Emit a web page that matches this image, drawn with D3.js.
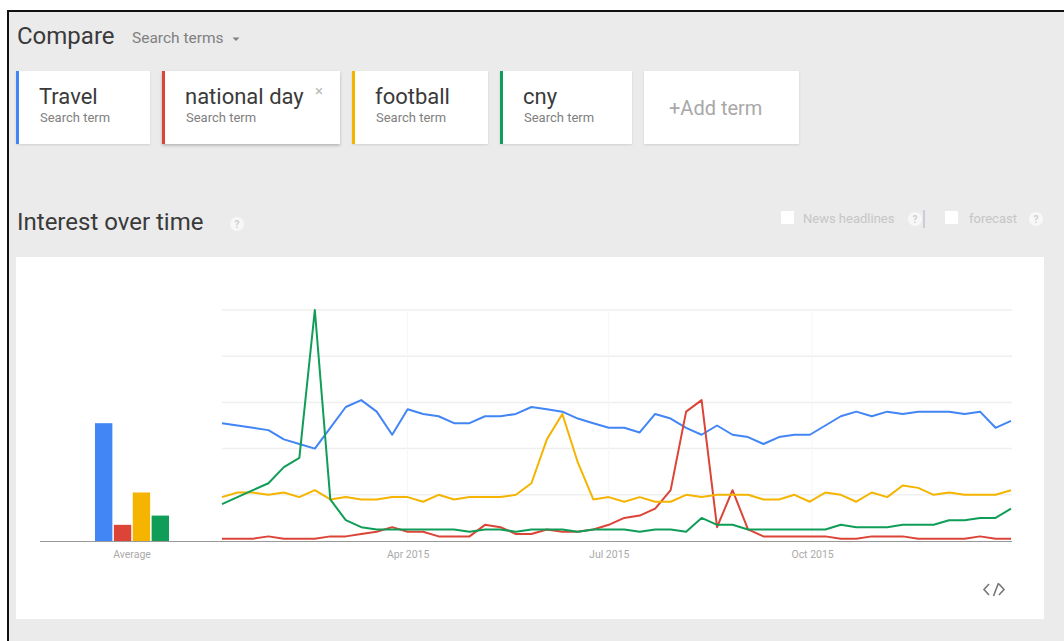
<!DOCTYPE html>
<html>
<head>
<meta charset="utf-8">
<script src="https://d3js.org/d3.v7.min.js"></script>
<style>
  body { margin: 0; background: #fff; }
  text { font-family: Roboto, "Open Sans", sans-serif; }
</style>
</head>
<body>
<div id="chart"></div>
<script>
// Search terms and their colours
const terms = ["Travel", "national day", "football", "cny"];
const termColors = ["#4285f4", "#db4437", "#f4b400", "#0f9d58"];

// Average interest per term (left bar group)
const averages = [51, 7, 21, 11];

// Weekly interest, 2015 (one value per week, week midpoints)
const travel = [51, 50, 49, 48, 44, 42, 40, 49, 58, 61, 56, 46, 57, 55, 54, 51, 51, 54, 54, 55,
  58, 57, 56, 53, 51, 49, 49, 47, 55, 53, 49, 46, 50, 46, 45, 42, 45, 46, 46, 50,
  54, 56, 54, 56, 55, 56, 56, 56, 55, 56, 49, 52];
const nationalDay = [1, 1, 1, 2, 1, 1, 1, 2, 2, 3, 4, 6, 4, 4, 2, 2, 2, 7, 6, 3,
  3, 5, 4, 4, 5, 7, 10, 11, 14, 22, 56, 61, 6, 22, 5, 2, 2, 2, 2, 2,
  1, 1, 2, 2, 2, 1, 1, 1, 1, 2, 1, 1];
const football = [19, 21, 21, 20, 21, 19, 22, 18, 19, 18, 18, 19, 19, 17, 20, 18, 19, 19, 19, 20,
  25, 44, 55, 34, 18, 19, 17, 19, 17, 17, 20, 19, 20, 20, 20, 18, 18, 20, 17, 21,
  20, 17, 21, 19, 24, 23, 20, 21, 20, 20, 20, 22];
const cny = [16, 19, 22, 25, 32, 36, 100, 18, 9, 6, 5, 5, 5, 5, 5, 5, 4, 5, 5, 4,
  5, 5, 5, 4, 5, 5, 5, 4, 5, 5, 4, 10, 7, 7, 5, 5, 5, 5, 5, 5,
  7, 6, 6, 6, 7, 7, 7, 9, 9, 10, 10, 14];

// x tick labels
const tickDates = [new Date(2015, 3, 1), new Date(2015, 6, 1), new Date(2015, 9, 1)];
const yGrid = [20, 40, 60, 80, 100];

const weeks = d3.timeWednesday.range(new Date(2015, 0, 7), new Date(2015, 11, 31));
const seriesValues = [travel, nationalDay, football, cny];

const svgWidth = 1064;
const svgHeight = 641;

const svg = d3.select("#chart")
  .append("svg")
  .attr("width", svgWidth)
  .attr("height", svgHeight);

const defs = svg.append("defs");
const shadow = defs.append("filter").attr("id", "shadow")
  .attr("x", "-10%").attr("y", "-10%").attr("width", "120%").attr("height", "130%");
shadow.append("feDropShadow").attr("dx", 0).attr("dy", 1).attr("stdDeviation", 1)
  .attr("flood-color", "#000").attr("flood-opacity", 0.12);
const shadow2 = defs.append("filter").attr("id", "shadow2")
  .attr("x", "-10%").attr("y", "-10%").attr("width", "120%").attr("height", "130%");
shadow2.append("feDropShadow").attr("dx", 0).attr("dy", 1.5).attr("stdDeviation", 1.5)
  .attr("flood-color", "#000").attr("flood-opacity", 0.25);

// grey page with black frame
svg.append("rect")
  .attr("x", 8).attr("y", 11)
  .attr("width", 1070).attr("height", 640)
  .attr("fill", "#ebebeb")
  .attr("stroke", "#111")
  .attr("stroke-width", 2);

// Header
svg.append("text").attr("x", 17).attr("y", 44)
  .attr("font-size", 24).attr("fill", "#3a3a3a").text("Compare");
svg.append("text").attr("x", 132).attr("y", 43)
  .attr("font-size", 15.5).attr("fill", "#808080").text("Search terms");
svg.append("path").attr("d", "M232.5,37.5 L239.5,37.5 L236,41 Z").attr("fill", "#808080");

// term cards
const cards = [
  {x: 16, w: 134}, {x: 162, w: 178}, {x: 352, w: 136}, {x: 500, w: 132}
];
cards.forEach(function(c, i) {
  const g = svg.append("g").attr("transform", `translate(${c.x}, 71)`);
  g.append("rect").attr("width", c.w).attr("height", 73)
    .attr("fill", "#fff")
    .attr("filter", i === 1 ? "url(#shadow2)" : "url(#shadow)");
  g.append("rect").attr("width", 3).attr("height", 73).attr("fill", termColors[i]);
  g.append("text").attr("x", 23).attr("y", 33)
    .attr("font-size", 22).attr("fill", "#3a3a3a").text(terms[i]);
  g.append("text").attr("x", 24).attr("y", 51)
    .attr("font-size", 13).attr("fill", "#808080").text("Search term");
  if (i === 1) {
    g.append("text").attr("x", 157).attr("y", 25)
      .attr("text-anchor", "middle")
      .attr("font-size", 15).attr("fill", "#bbb").text("×");
  }
});
svg.append("rect").attr("x", 644).attr("y", 71).attr("width", 155).attr("height", 73)
  .attr("fill", "#fff").attr("filter", "url(#shadow)");
svg.append("text").attr("x", 669).attr("y", 115)
  .attr("font-size", 20).attr("fill", "#a8a8a8").text("+Add term");

// Interest over time heading
svg.append("text").attr("x", 17).attr("y", 230)
  .attr("font-size", 24).attr("fill", "#3a3a3a").text("Interest over time");

function helpIcon(cx, cy) {
  svg.append("circle").attr("cx", cx).attr("cy", cy).attr("r", 7)
    .attr("fill", "#f7f7f7");
  svg.append("text").attr("x", cx).attr("y", cy + 3.5)
    .attr("text-anchor", "middle").attr("font-size", 10).attr("font-weight", "bold")
    .attr("fill", "#d0d0d0").text("?");
}
helpIcon(237, 224);

// News headlines / forecast options
svg.append("rect").attr("x", 781).attr("y", 211).attr("width", 13).attr("height", 13).attr("fill", "#fff");
svg.append("text").attr("x", 803).attr("y", 223)
  .attr("font-size", 13).attr("fill", "#c6c6c6").text("News headlines");
helpIcon(915, 219);
svg.append("line").attr("x1", 924).attr("x2", 924).attr("y1", 210).attr("y2", 228)
  .attr("stroke", "#a9b0c0").attr("stroke-width", 1);
svg.append("rect").attr("x", 945).attr("y", 211).attr("width", 13).attr("height", 13).attr("fill", "#fff");
svg.append("text").attr("x", 969).attr("y", 223)
  .attr("font-size", 13).attr("fill", "#c6c6c6").text("forecast");
helpIcon(1036, 219);

// White chart panel
svg.append("rect").attr("x", 16).attr("y", 257)
  .attr("width", 1028).attr("height", 362).attr("fill", "#fff");

// scales
const xScale = d3.scaleTime()
  .domain([weeks[0], weeks[weeks.length - 1]])
  .range([222, 1011]);
const yScale = d3.scaleLinear().domain([0, 100]).range([541, 310]);
const barScale = d3.scaleBand().domain(terms).range([95, 169]).paddingInner(0.08);

// gridlines
svg.append("g").selectAll("line")
  .data(yGrid)
  .enter()
  .append("line")
  .attr("x1", 222).attr("x2", 1012)
  .attr("y1", d => yScale(d)).attr("y2", d => yScale(d))
  .attr("stroke", "#efefef").attr("stroke-width", 1.5);
svg.append("g").selectAll("line")
  .data(tickDates)
  .enter()
  .append("line")
  .attr("x1", d => xScale(d)).attr("x2", d => xScale(d))
  .attr("y1", 310).attr("y2", 541)
  .attr("stroke", "#f6f6f6").attr("stroke-width", 1);

// average bars
svg.append("g").selectAll("rect")
  .data(averages)
  .enter()
  .append("rect")
  .attr("x", (d, i) => barScale(terms[i]))
  .attr("y", d => yScale(d))
  .attr("width", barScale.bandwidth())
  .attr("height", d => yScale(0) - yScale(d))
  .attr("fill", (d, i) => termColors[i]);

// baseline
svg.append("line").attr("x1", 40).attr("x2", 1012)
  .attr("y1", 541.5).attr("y2", 541.5)
  .attr("stroke", "#999").attr("stroke-width", 1);

svg.append("text").attr("x", 132).attr("y", 558)
  .attr("text-anchor", "middle").attr("font-size", 10.5).attr("fill", "#aaa").text("Average");

// x axis labels
const bottomAxis = d3.axisBottom(xScale)
  .tickValues(tickDates)
  .tickFormat(d3.timeFormat("%b %Y"))
  .tickSize(0)
  .tickPadding(10);
const xAxis = svg.append("g")
  .attr("transform", "translate(0, 541)")
  .call(bottomAxis);
xAxis.select(".domain").remove();
xAxis.selectAll("text")
  .attr("font-family", "Roboto, sans-serif")
  .attr("font-size", 10.5)
  .attr("fill", "#aaa");

// lines
const lineGen = d3.line()
  .x((d, i) => xScale(weeks[i]))
  .y(d => yScale(d));

svg.append("g").selectAll("path")
  .data(seriesValues)
  .enter()
  .append("path")
  .attr("d", d => lineGen(d))
  .attr("fill", "none")
  .attr("stroke", (d, i) => termColors[i])
  .attr("stroke-width", 2)
  .attr("stroke-linejoin", "round");

// embed icon  </>
svg.append("path")
  .attr("d", "M989,584 L984,589.5 L989,595 M998.5,583 L993.5,596 M999,584 L1004,589.5 L999,595")
  .attr("fill", "none")
  .attr("stroke", "#777")
  .attr("stroke-width", 1.6);
</script>
</body>
</html>
